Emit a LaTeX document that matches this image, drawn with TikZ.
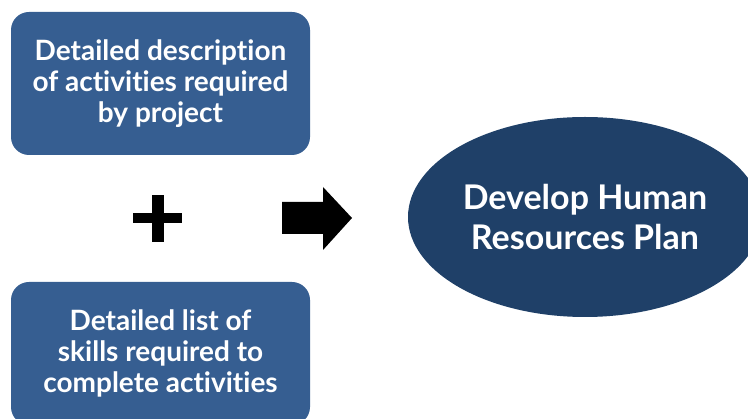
\documentclass[tikz,border=0pt]{standalone}
\usepackage{fontspec}
\setmainfont{Lato}[Ligatures=NoCommon]
\usepackage{xcolor}
\usetikzlibrary{shapes.geometric}
\definecolor{boxblue}{RGB}{54, 94, 145}
\definecolor{planblue}{RGB}{31, 64, 104}

\begin{document}
\begin{tikzpicture}[x=1pt, y=-1pt,
    inputbox/.style={fill=boxblue, rounded corners=18pt, minimum width=299pt, minimum height=143pt,
        text=white, align=center, font=\fontsize{28}{31}\selectfont\bfseries},
    planoval/.style={ellipse, fill=planblue, minimum width=354pt, minimum height=200pt, inner sep=0pt,
        text=white, align=center, font=\fontsize{34}{40}\selectfont\bfseries}]
        \useasboundingbox (0,0) rectangle (748,419);

        % Draw the two inputs as rounded boxes
        \node[inputbox] (desc) at (160.5,83.5) {Detailed description\\of activities required\\by project};
        \node[inputbox] (skills) at (160.5,353.5) {Detailed list of\\skills required to\\complete activities};

        % Draw the plus sign between the inputs
        \fill[black] (152,195) rectangle (164,242);
        \fill[black] (133,213) rectangle (182,223);

        % Draw the block arrow
        \fill[black] (282,202) -- (323,202) -- (323,187) -- (352,218) -- (323,250) -- (323,234) -- (282,234) -- cycle;

        % Draw the plan as an oval
        \node[planoval] (hrplan) at (585,217) {Develop Human\\Resources Plan};
    \end{tikzpicture}
\end{document}
